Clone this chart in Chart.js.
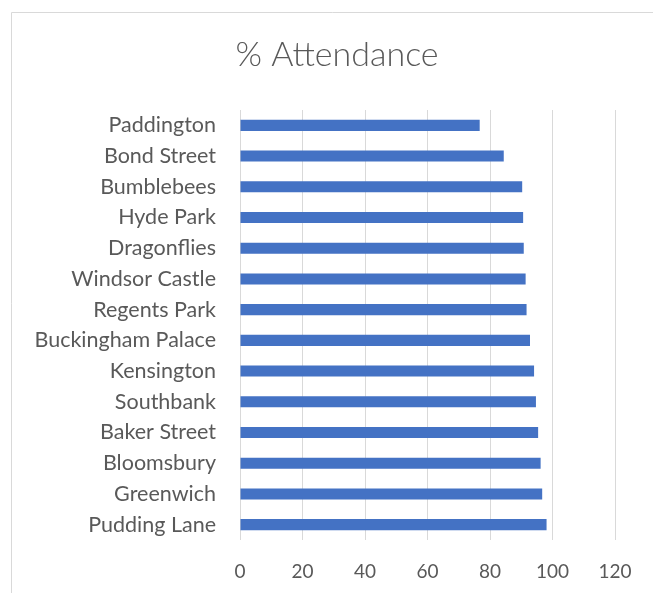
<!DOCTYPE html>
<html>
<head>
<meta charset="utf-8">
<script src="https://cdn.jsdelivr.net/npm/chart.js@4/dist/chart.umd.min.js"></script>
<style>
  html, body { margin: 0; padding: 0; background: #ffffff; }
  #wrap { width: 653px; height: 593px; position: relative; }
</style>
</head>
<body>
<div id="wrap"><canvas id="grafica"></canvas></div>
<script>
// datos de la grafica
const categorias = ['Paddington', 'Bond Street', 'Bumblebees', 'Hyde Park', 'Dragonflies', 'Windsor Castle',
    'Regents Park', 'Buckingham Palace', 'Kensington', 'Southbank', 'Baker Street', 'Bloomsbury', 'Greenwich', 'Pudding Lane'];
const asistencia = [76.7, 84.4, 90.3, 90.6, 90.8, 91.4, 91.7, 92.8, 94.1, 94.7, 95.4, 96.2, 96.7, 98.1];
const ticksX = [0, 20, 40, 60, 80, 100, 120];
const titulo = '% Attendance';

const fuente = 'Lato, "Open Sans", sans-serif';
const gris = '#595959';

// marco gris y titulo centrado en todo el grafico
const marcoTitulo = {
    id: 'marcoTitulo',
    beforeDraw(chart) {
        const ctx = chart.ctx;
        ctx.save();
        ctx.strokeStyle = '#d9d9d9';
        ctx.lineWidth = 1;
        ctx.beginPath();
        ctx.moveTo(11.5, 600);
        ctx.lineTo(11.5, 12.5);
        ctx.lineTo(660, 12.5);
        ctx.stroke();

        ctx.fillStyle = gris;
        ctx.font = '300 34px ' + fuente;
        ctx.textAlign = 'center';
        ctx.textBaseline = 'middle';
        ctx.fillText(titulo, 337, 55);
        ctx.restore();
    }
};

new Chart(document.getElementById('grafica'), {
    type: 'bar',
    data: {
        labels: categorias,
        datasets: [{
            data: asistencia,
            backgroundColor: '#4472C4',
            borderWidth: 0,
            barPercentage: 0.72,
            categoryPercentage: 0.5
        }]
    },
    options: {
        indexAxis: 'y',
        responsive: true,
        maintainAspectRatio: false,
        animation: false,
        layout: { padding: { left: 0, right: 38, top: 110, bottom: 0 } },
        plugins: {
            legend: { display: false },
            tooltip: { enabled: false },
            title: { display: false }
        },
        scales: {
            x: {
                min: 0,
                max: 120,
                afterBuildTicks(scale) {
                    scale.ticks = ticksX.map(v => ({ value: v }));
                },
                grid: { color: '#d9d9d9', lineWidth: 1, drawTicks: false },
                border: { display: false },
                ticks: { color: gris, font: { size: 19, family: fuente }, padding: 20 },
                afterFit(scale) { scale.height = 53; }
            },
            y: {
                grid: { display: false, drawTicks: false },
                border: { display: false },
                ticks: { color: gris, font: { size: 21.5, family: fuente }, padding: 24 },
                afterFit(scale) { scale.width = 240; }
            }
        }
    },
    plugins: [marcoTitulo]
});
</script>
</body>
</html>
